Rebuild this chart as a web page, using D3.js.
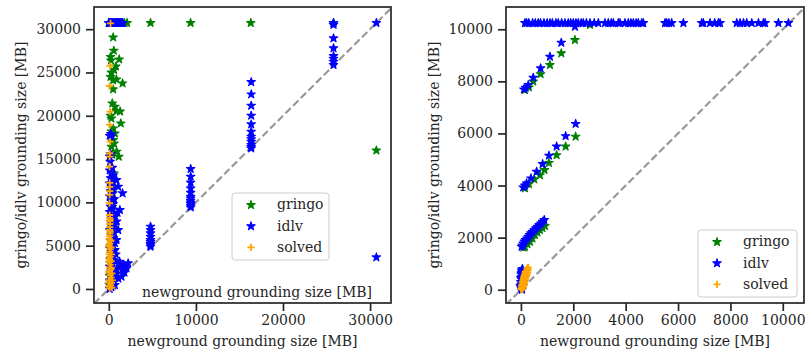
<!DOCTYPE html>
<html>
<head>
<meta charset="utf-8">
<script src="https://cdn.jsdelivr.net/npm/d3@7"></script>
<style>
    body { margin: 0; background: #fff; }
    svg text { font-family: "DejaVu Serif", serif; fill: #262626; }
</style>
</head>
<body>
<div id="chart"></div>
<script>
// series names / colours used by both panels
var seriesNames = ["gringo", "idlv", "solved"];

// left panel: all instances (values in MB, 30720 = cap)
var leftGringo = [
    [0, 30720], [300, 30720], [600, 30720], [900, 30720], [1200, 30720], [1500, 30720], [1800, 30720], [2100, 30720],
    [4790, 30720], [9390, 30720], [16300, 30720], [25800, 30720],
    [500, 29060], [575, 27520], [1190, 26520], [200, 26800], [250, 26400], [800, 25700], [600, 25300], [300, 25000],
    [500, 24100], [880, 24200], [1580, 23750], [500, 23060], [200, 24500], [400, 21440], [700, 21050], [880, 20550],
    [1300, 20500], [300, 19700], [1380, 19130], [500, 18550], [700, 17970], [500, 17200], [300, 16430], [900, 15860],
    [1150, 15280], [400, 15500], [300, 18200], [600, 16800], [200, 20000],
    [460, 11085], [600, 13350], [300, 12000], [400, 9500], [300, 7000], [200, 5000], [150, 3000], [100, 1500], [50, 500],
    [30720, 16000]
];
var leftIdlv = [
    [0, 30720], [100, 30720], [200, 30720], [300, 30720], [400, 30720], [500, 30720], [600, 30720], [700, 30720],
    [800, 30720], [900, 30720], [1000, 30720], [1100, 30720], [1200, 30720], [1300, 30720], [1400, 30720],
    [1500, 30720], [1600, 30720], [25800, 30720], [30720, 30720],
    [25800, 30500], [25800, 28950], [25800, 27800], [25800, 26900], [25800, 26600], [25800, 26250], [25800, 25870],
    [16350, 23900], [16350, 22480], [16350, 21170], [16350, 20020], [16350, 19020], [16350, 18170], [16350, 17590],
    [16350, 17300], [16350, 17010], [16350, 16630], [16350, 16400], [16350, 16240],
    [9400, 13860], [9400, 12970], [9400, 12280], [9400, 11620], [9400, 11120], [9400, 10660], [9400, 10450],
    [9400, 10200], [9400, 10000], [9400, 9810], [9400, 9600], [9400, 9430],
    [4790, 7200], [4790, 6810], [4790, 6430], [4790, 6040], [4790, 5660], [4790, 5470], [4790, 5270], [4790, 5080], [4790, 4890],
    [30720, 3660],
    [100, 0], [300, 200], [500, 400], [200, 600], [600, 800], [100, 1000], [400, 1200], [700, 1400], [200, 1600],
    [500, 1800], [300, 2000], [600, 2300], [100, 2600], [400, 2900], [700, 3200], [200, 3500], [500, 3800],
    [300, 4100], [600, 4400], [100, 4700], [400, 5000], [700, 5300], [200, 5600], [500, 5900], [300, 6200],
    [600, 6500], [100, 6800], [400, 7100], [700, 7400], [200, 7700], [500, 8000], [300, 8300], [600, 8600],
    [100, 8900], [400, 9200], [200, 9500], [500, 9800], [300, 10100], [600, 10400], [100, 10700], [400, 11000],
    [200, 11300], [500, 11600], [300, 11900], [100, 12200], [400, 12500], [200, 12800], [500, 13100], [300, 13400],
    [100, 13700], [400, 14000], [150, 14700], [100, 15300], [200, 15600], [300, 17600], [250, 17900], [100, 17700],
    [880, 12580], [1080, 11820], [1580, 11050], [500, 10280], [1270, 9120], [690, 8350], [1000, 8800], [1080, 6810],
    [880, 5660], [690, 4500], [500, 3350], [900, 7800], [800, 4000], [900, 2200],
    [1240, 3150], [2220, 2970], [1270, 2570], [2030, 2390], [880, 1810], [1460, 1420], [500, 840], [690, 460],
    [1700, 2800], [1900, 2600], [1600, 2200], [1800, 1900], [1100, 1200]
];
var leftSolved = [
    [200, 30680], [150, 25750], [100, 23440], [150, 20470], [100, 18940], [150, 17010], [100, 15670], [100, 15280],
    [80, 14130], [100, 12240], [100, 11800], [100, 11300], [100, 10860], [80, 9900], [100, 8540], [100, 8200],
    [100, 7850], [100, 7500], [100, 7150], [100, 6810], [100, 6400], [100, 6100], [50, 5800], [150, 5500],
    [100, 5200], [50, 4900], [150, 4600], [100, 4300], [50, 4000], [150, 3700], [100, 3400], [50, 3100],
    [150, 2800], [100, 2500], [200, 2200], [50, 1900], [150, 1600], [250, 1300], [100, 1000], [300, 700],
    [50, 700], [200, 400], [0, 300], [100, 100], [350, 150],
    [250, 5600], [250, 4800], [300, 4000], [250, 3200], [300, 2400], [350, 1800], [400, 1000], [0, 5000],
    [0, 3500], [0, 2000], [0, 1000], [150, 6600], [150, 8000]
];

// right panel: values in MB, 10240 = cap
var rightGringo = [
    [153, 7670], [306, 7770], [471, 8000], [752, 8280], [1108, 8630], [1541, 9080], [2063, 9590], [2637, 10170],
    [153, 3900], [306, 4060], [509, 4240], [726, 4400], [900, 4600], [1070, 4870], [1363, 5170], [1707, 5500], [2090, 5880],
    [100, 1620], [153, 1650], [250, 1750], [344, 1840], [440, 1970], [535, 2100], [630, 2200], [726, 2290],
    [820, 2370], [917, 2450],
    [50, 100], [100, 300], [150, 500]
];
var rightIdlv = [
    [153, 10240], [217, 10240], [300, 10240], [446, 10240], [550, 10240], [662, 10240], [750, 10240], [879, 10240],
    [1000, 10240], [1108, 10240], [1200, 10240], [1337, 10240], [1426, 10240], [1554, 10240], [1681, 10240],
    [1808, 10240], [1900, 10240], [1999, 10240], [2100, 10240], [2190, 10240], [2300, 10240], [2381, 10240],
    [2500, 10240], [2637, 10240], [2800, 10240], [2955, 10240], [3210, 10240], [3337, 10240], [3450, 10240],
    [3528, 10240], [3719, 10240], [3783, 10240], [3974, 10240], [4101, 10240], [4200, 10240], [4292, 10240],
    [4400, 10240], [4483, 10240], [4610, 10240], [4674, 10240], [5503, 10240], [5566, 10240], [5650, 10240],
    [5757, 10240], [6204, 10240], [6905, 10240], [6966, 10240], [7222, 10240], [7400, 10240], [7540, 10240],
    [7604, 10240], [8242, 10240], [8368, 10240], [8500, 10240], [8623, 10240], [8815, 10240], [9069, 10240],
    [9260, 10240], [9324, 10240], [9833, 10240], [10215, 10240],
    [2063, 10100], [115, 7695], [180, 7760], [280, 7861], [471, 8142], [752, 8502], [1108, 8948], [1541, 9486],
    [89, 3932], [150, 4000], [217, 4086], [382, 4278], [599, 4533], [828, 4827], [1070, 5150], [1363, 5500],
    [1707, 5900], [2090, 6370],
    [27, 1650], [60, 1700], [89, 1780], [130, 1850], [179, 1910], [230, 1970], [280, 2035], [330, 2100],
    [382, 2170], [445, 2230], [509, 2290], [570, 2360], [637, 2420], [700, 2490], [764, 2550], [830, 2610], [891, 2680],
    [0, 100], [10, 200], [0, 300], [20, 400], [30, 500], [40, 600], [50, 700], [60, 250], [20, 50], [80, 150],
    [100, 350], [40, 0], [-20, 150], [0, 450], [10, 600], [30, 750], [60, 800], [20, 650]
];
var rightSolved = [
    [20, 0], [40, 60], [60, 130], [80, 200], [100, 270], [120, 340], [140, 410], [160, 480], [180, 550], [200, 620],
    [220, 690], [250, 780], [280, 860], [50, 200], [70, 300], [90, 380], [110, 450], [130, 530], [150, 600],
    [30, 120], [170, 680], [60, 20], [100, 150],
    [0, 40], [90, 90], [40, 180], [120, 230], [60, 300], [140, 300], [100, 380], [170, 400], [120, 480], [200, 480],
    [150, 560], [230, 560], [180, 640], [250, 650], [210, 730], [270, 740], [240, 830]
];

// axis ticks
var leftXTicks = [0, 10000, 20000, 30000];
var leftYTicks = [0, 5000, 10000, 15000, 20000, 25000, 30000];
var rightXTicks = [0, 2000, 4000, 6000, 8000, 10000];
var rightYTicks = [0, 2000, 4000, 6000, 8000, 10000];

var xLabel = "newground grounding size [MB]";
var yLabel = "gringo/idlv grounding size [MB]";

var colors = {gringo: "#008000", idlv: "#0000ff", solved: "#ffa500"};
var width = 805, height = 356;

var svg = d3.select("#chart").append("svg")
    .attr("width", width)
    .attr("height", height);

svg.append("rect").attr("width", width).attr("height", height).attr("fill", "#fff");

scatterPlot({
    id: "left",
    box: {left: 94, right: 391, top: 7, bottom: 303},
    xDomain: [-1700, 32400], yDomain: [-1620, 32560],
    xTicks: leftXTicks, yTicks: leftYTicks,
    series: [leftGringo, leftIdlv, leftSolved],
    yLabelX: 26,
    legend: {x: 232, y: 193, w: 97, h: 67},
    strayLabel: true
});

scatterPlot({
    id: "right",
    box: {left: 506, right: 804, top: 7, bottom: 303},
    xDomain: [-570, 10810], yDomain: [-510, 10855],
    xTicks: rightXTicks, yTicks: rightYTicks,
    series: [rightGringo, rightIdlv, rightSolved],
    yLabelX: 439,
    legend: {x: 698, y: 230, w: 99, h: 67},
    strayLabel: false
});

function drawMarker(sel, name) {
    if (name === "solved") {
        sel.append("path")
            .attr("d", "M-3.6,0H3.6M0,-3.6V3.6")
            .attr("stroke", colors[name])
            .attr("stroke-width", 1.8)
            .attr("fill", "none");
    } else {
        sel.append("path")
            .attr("d", d3.symbol().type(d3.symbolStar).size(22)())
            .attr("fill", colors[name])
            .attr("stroke", colors[name])
            .attr("stroke-width", 1.1)
            .attr("stroke-linejoin", "round");
    }
}

function scatterPlot(cfg) {
    var b = cfg.box;
    var x = d3.scaleLinear().domain(cfg.xDomain).range([b.left, b.right]);
    var y = d3.scaleLinear().domain(cfg.yDomain).range([b.bottom, b.top]);

    svg.append("clipPath").attr("id", cfg.id + "-clip")
        .append("rect")
        .attr("x", b.left).attr("y", b.top)
        .attr("width", b.right - b.left).attr("height", b.bottom - b.top);

    var plot = svg.append("g").attr("clip-path", "url(#" + cfg.id + "-clip)");

    // y = x reference line
    var lo = Math.min(cfg.xDomain[0], cfg.yDomain[0]);
    var hi = Math.max(cfg.xDomain[1], cfg.yDomain[1]);
    plot.append("path")
        .datum([[lo, lo], [hi, hi]])
        .attr("d", d3.line().x(function (d) { return x(d[0]); }).y(function (d) { return y(d[1]); }))
        .attr("stroke", "#999999")
        .attr("stroke-width", 2.2)
        .attr("stroke-dasharray", "7.4,3.4")
        .attr("fill", "none");

    cfg.series.forEach(function (data, i) {
        var name = seriesNames[i];
        plot.append("g").selectAll("g")
            .data(data)
            .enter().append("g")
            .attr("transform", function (d) { return "translate(" + x(d[0]) + "," + y(d[1]) + ")"; })
            .each(function () { drawMarker(d3.select(this), name); });
    });

    // axes
    var xAxis = svg.append("g")
        .attr("transform", "translate(0," + b.bottom + ")")
        .call(d3.axisBottom(x).tickValues(cfg.xTicks).tickSize(8).tickPadding(4).tickFormat(d3.format("d")));
    var yAxis = svg.append("g")
        .attr("transform", "translate(" + b.left + ",0)")
        .call(d3.axisLeft(y).tickValues(cfg.yTicks).tickSize(8).tickPadding(5).tickFormat(d3.format("d")));
    [xAxis, yAxis].forEach(function (a) {
        a.select(".domain").remove();
        a.selectAll(".tick line").attr("stroke", "#262626").attr("stroke-width", 1.7);
        a.selectAll(".tick text").attr("font-size", 14).attr("font-family", "DejaVu Serif").attr("fill", "#262626");
    });

    // frame
    svg.append("rect")
        .attr("x", b.left).attr("y", b.top)
        .attr("width", b.right - b.left).attr("height", b.bottom - b.top)
        .attr("fill", "none")
        .attr("stroke", "#262626")
        .attr("stroke-width", 1.7);

    // labels
    svg.append("text")
        .attr("x", (b.left + b.right) / 2)
        .attr("y", 346)
        .attr("text-anchor", "middle")
        .attr("font-size", 14)
        .text(xLabel);

    svg.append("text")
        .attr("transform", "translate(" + cfg.yLabelX + "," + ((b.top + b.bottom) / 2) + ") rotate(-90)")
        .attr("text-anchor", "middle")
        .attr("font-size", 14)
        .text(yLabel);

    if (cfg.strayLabel) {
        svg.append("text")
            .attr("x", b.right - 19)
            .attr("y", 297)
            .attr("text-anchor", "end")
            .attr("font-size", 14)
            .text(xLabel);
    }

    // legend
    var L = cfg.legend;
    var leg = svg.append("g");
    leg.append("rect")
        .attr("x", L.x).attr("y", L.y)
        .attr("width", L.w).attr("height", L.h)
        .attr("rx", 3)
        .attr("fill", "#fff").attr("fill-opacity", 0.8)
        .attr("stroke", "#cccccc").attr("stroke-width", 1);
    seriesNames.forEach(function (name, i) {
        var cy = L.y + 12 + i * 21.2;
        var item = leg.append("g").attr("transform", "translate(" + (L.x + 19) + "," + cy + ")");
        drawMarker(item, name);
        leg.append("text")
            .attr("x", L.x + 45)
            .attr("y", cy)
            .attr("dy", "0.32em")
            .attr("font-size", 14)
            .text(name);
    });
}
</script>
</body>
</html>
